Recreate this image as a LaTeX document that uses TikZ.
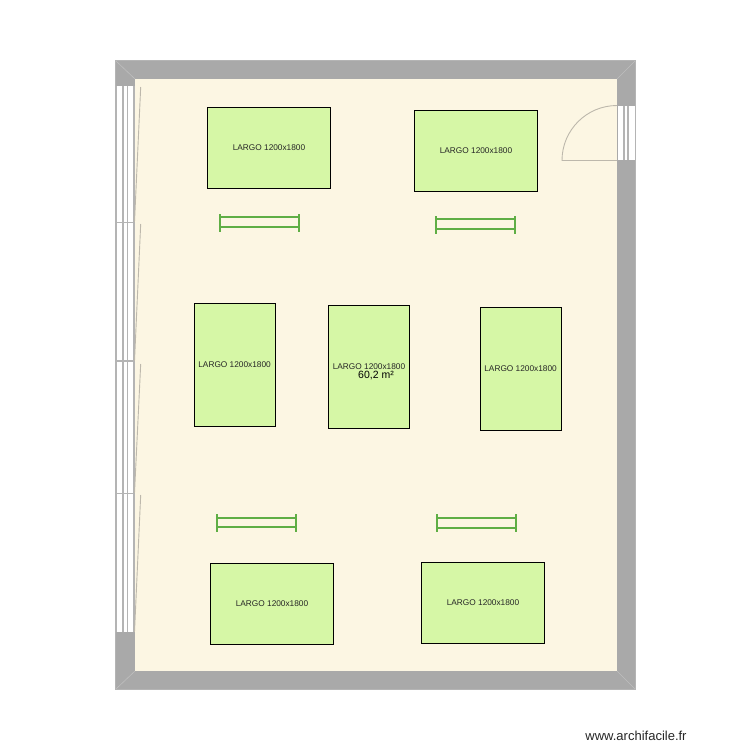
\documentclass[tikz,border=0pt]{standalone}
\usepackage{fontspec}
\setmainfont{Liberation Sans}
\definecolor{wallc}{HTML}{A9A9A9}
\definecolor{floorc}{HTML}{FCF6E3}
\definecolor{tablec}{HTML}{D6F7A6}
\definecolor{benchc}{HTML}{5FAE45}
\definecolor{framec}{HTML}{B4B4B4}
\definecolor{sashc}{HTML}{BDB8AC}
\definecolor{mitrec}{HTML}{BEBEBE}
\tikzset{
  x=1pt,y=-1pt,
  tablebox/.style={draw=black,line width=0.7pt,fill=tablec,inner sep=0pt,font=\fontsize{8.3}{10}\selectfont,text=black!85},
  benchline/.style={draw=benchc,line width=2pt},
  frameline/.style={draw=framec,line width=1pt},
  sashline/.style={draw=sashc,line width=0.9pt},
}
\newcommand{\tablerect}[5]{\node[tablebox,minimum width=#4 pt,minimum height=#5 pt] (#1) at (#2,#3) {LARGO 1200x1800};}
\newcommand{\benchrow}[6]{%
  \draw[benchline] (#1,#3) -- (#2,#3);
  \draw[benchline] (#1,#4) -- (#2,#4);
  \draw[benchline] (#1,#5) -- (#1,#6);
  \draw[benchline] (#2,#5) -- (#2,#6);
}
\begin{document}
\begin{tikzpicture}
\useasboundingbox (0,0) rectangle (750,750);
\fill[white] (0,0) rectangle (750,750);
% walls and floor
\fill[wallc] (115.5,60) rectangle (635.5,689.5);
\fill[floorc] (135,79) rectangle (617,671);
\draw[mitrec,line width=0.6pt] (116,61) -- (135,79);
\draw[mitrec,line width=0.6pt] (635,61) -- (617,79);
\draw[mitrec,line width=0.6pt] (116,689) -- (135,671);
\draw[mitrec,line width=0.6pt] (635,689) -- (617,671);
\draw[framec,line width=0.6pt] (115.5,60) -- (635.5,60) -- (635.5,689.5) -- (115.5,689.5) -- cycle;
% left window
\fill[white] (116,86) rectangle (134,632);
\foreach \xx/\ww in {116/1.3,123/1.2,127.7/1,134/1.3}
  \draw[framec,line width=\ww pt] (\xx,86) -- (\xx,632);
\draw[frameline] (116,222) -- (134,222);
\draw[framec,line width=1.6pt] (116,361) -- (134,361);
\draw[frameline] (116,493) -- (134,493);
\draw[sashline] (140.7,87) -- (134.5,222);
\draw[sashline] (140.7,224) -- (134.5,361);
\draw[sashline] (140.7,364) -- (134.5,493);
\draw[sashline] (140.7,495) -- (134.5,632);
% door
\fill[white] (618,106) rectangle (635,160);
\draw[framec,line width=1.2pt] (624,106) -- (624,160);
\draw[framec,line width=1.2pt] (628,106) -- (628,160);
\draw[sashc,line width=0.9pt] (617,105.5) arc[start angle=-90,end angle=-180,radius=55] -- (617,160.5);
% tables
\tablerect{t1}{269}{147.8}{122.6}{81.4}
\tablerect{t2}{476}{150.6}{122.6}{81.4}
\tablerect{t3}{234.6}{365}{81.4}{122.6}
\tablerect{t4}{369}{367}{80.6}{122.6}
\tablerect{t5}{520.6}{369}{81.4}{122.6}
\tablerect{t6}{272}{604}{122.6}{80.6}
\tablerect{t7}{483}{602.6}{122.6}{81.4}
% benches
\benchrow{220}{299}{217}{227}{214}{232}
\benchrow{436}{515}{219}{229}{216}{234}
\benchrow{217.2}{296.2}{518}{527}{514}{532}
\benchrow{437}{516}{518}{528}{514}{532}
% labels
\node[font=\fontsize{10.5}{12}\selectfont,inner sep=0pt,text=black] (area) at (376,375) {60,2 m²};
\node[font=\fontsize{13}{15}\selectfont,inner sep=0pt,text=black!85] (brand) at (636,735.5) {www.archifacile.fr};
\end{tikzpicture}
\end{document}
